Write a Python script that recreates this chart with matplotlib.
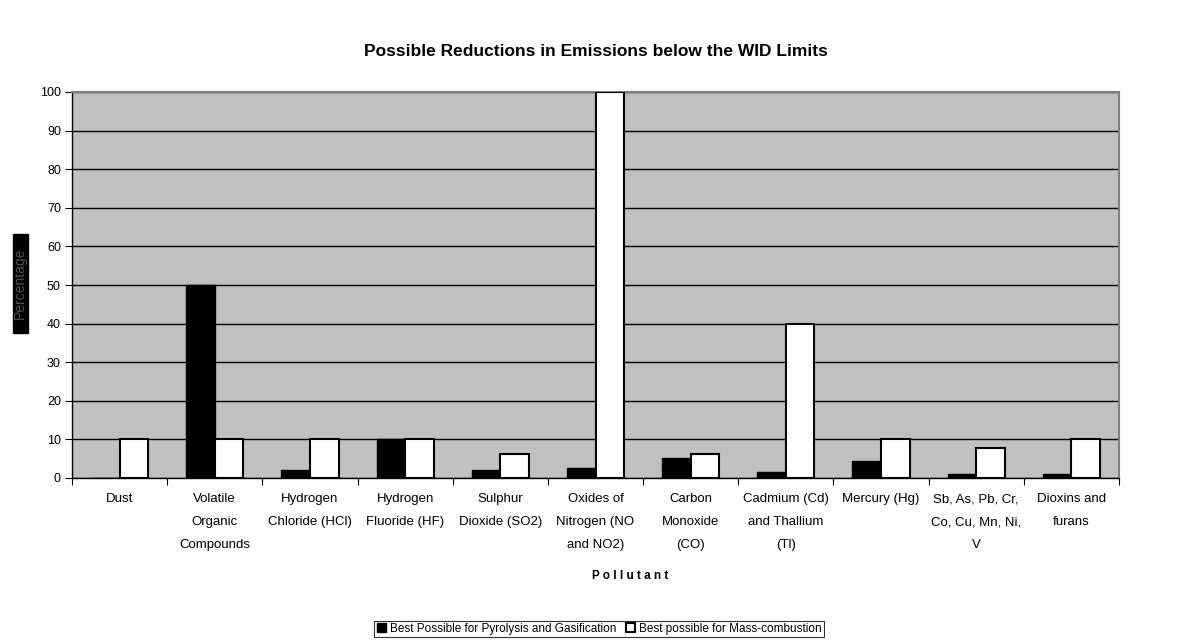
import matplotlib
matplotlib.use("Agg")
import matplotlib.pyplot as plt
from matplotlib.patches import Rectangle
import numpy as np

plt.rcParams['font.family'] = ['Liberation Sans', 'DejaVu Sans']

categories = [
    "Dust",
    "Volatile\nOrganic\nCompounds",
    "Hydrogen\nChloride (HCl)",
    "Hydrogen\nFluoride (HF)",
    "Sulphur\nDioxide (SO2)",
    "Oxides of\nNitrogen (NO\nand NO2)",
    "Carbon\nMonoxide\n(CO)",
    "Cadmium (Cd)\nand Thallium\n(Tl)",
    "Mercury (Hg)",
    "Sb, As, Pb, Cr,\nCo, Cu, Mn, Ni,\nV",
    "Dioxins and\nfurans",
]
pyrolysis = [0, 50, 2, 10, 2, 2.6, 5.3, 1.5, 4.3, 1.1, 1]
mass_combustion = [10, 10, 10, 10, 6.2, 100, 6.2, 40, 10, 7.7, 10]
series_names = ["Best Possible for Pyrolysis and Gasification",
                "Best possible for Mass-combustion"]

W, H = 1189, 640
fig = plt.figure(figsize=(W / 100, H / 100), dpi=100)
ax = fig.add_axes([72 / W, 1 - 478 / H, (1119 - 72) / W, (478 - 92) / H])
ax.set_facecolor('#C0C0C0')

x = np.arange(len(categories))
bw = 0.3
ax.bar(x - bw / 2, pyrolysis, bw, color='black', edgecolor='black', linewidth=1.0,
       label=series_names[0], zorder=3)
ax.bar(x + bw / 2, mass_combustion, bw, color='white', edgecolor='black', linewidth=1.5,
       label=series_names[1], zorder=3)

ax.set_xlim(-0.5, len(categories) - 0.5)
ax.set_ylim(0, 100)
ax.set_yticks(np.arange(0, 101, 10))
ax.yaxis.grid(True, color='black', linewidth=1.0, zorder=1)
ax.set_axisbelow(True)

ax.set_xticks(np.arange(-0.5, len(categories) + 0.5, 1))
ax.set_xticklabels([])
ax.set_xticks(x, minor=True)
ax.set_xticklabels(categories, minor=True, fontsize=9.5, linespacing=2.2, va='top')
ax.tick_params(axis='x', which='minor', length=0, pad=11)
ax.tick_params(axis='x', which='major', length=5, direction='out', width=0.8)
ax.tick_params(axis='y', length=5, direction='out', width=0.8, labelsize=9, pad=3)

for s in ['top', 'right']:
    ax.spines[s].set_color('#808080')
    ax.spines[s].set_linewidth(1.5)
for s in ['left', 'bottom']:
    ax.spines[s].set_color('black')
    ax.spines[s].set_linewidth(1.0)

fig.text(0.5 * (72 + 1119) / W, 1 - 52 / H,
         "Possible Reductions in Emissions below the WID Limits",
         ha='center', va='center', fontsize=12.5, fontweight='bold')
fig.text(630 / W, 1 - 576 / H, "P o l l u t a n t",
         ha='center', va='center', fontsize=8.5, fontweight='bold')
fig.patches.append(Rectangle((12.5 / W, 1 - 333 / H), 15 / W, 99 / H,
                             transform=fig.transFigure, facecolor='black',
                             edgecolor='black', zorder=1))
fig.text(20 / W, 1 - 283 / H, "Percentage", rotation=90, ha='center', va='center',
         fontsize=10, color='#505050', zorder=2)

leg = fig.legend(loc='center', bbox_to_anchor=(599 / W, 1 - 629 / H), ncol=2,
                 fontsize=8.5, frameon=True, fancybox=False, edgecolor='black',
                 handlelength=0.8, handleheight=0.8, handletextpad=0.3,
                 columnspacing=0.8, borderpad=0.2, borderaxespad=0)
leg.get_frame().set_linewidth(0.8)

fig.savefig("out.png", dpi=100)
